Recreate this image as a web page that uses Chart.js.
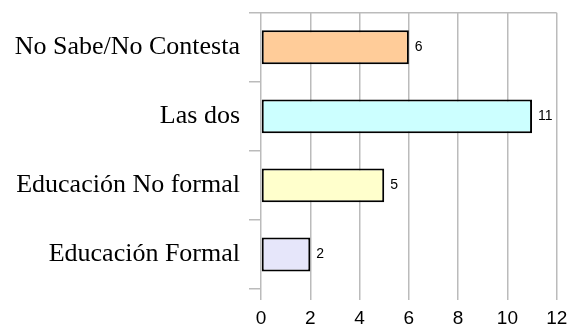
<!DOCTYPE html>
<html>
<head>
<meta charset="utf-8">
<script src="https://cdn.jsdelivr.net/npm/chart.js@4/dist/chart.umd.min.js"></script>
<style>
  html, body { margin: 0; padding: 0; background: #fff; }
  #wrap { width: 567px; height: 326px; }
</style>
</head>
<body>
<div id="wrap"><canvas id="c" width="567" height="326"></canvas></div>
<script>
// Respuestas por tipo de educación
const categories = ["No Sabe/No Contesta", "Las dos", "Educación No formal", "Educación Formal"];
const values = [6, 11, 5, 2];
const barColors = ["#FFCC99", "#CCFFFF", "#FFFFCC", "#E6E6FA"];
const xTicks = [0, 2, 4, 6, 8, 10, 12];

const GRID = "#BBBBBB";

// Value printed just past the end of each bar
const valueLabels = {
  id: "valueLabels",
  afterDatasetsDraw(chart) {
    const ctx = chart.ctx;
    const meta = chart.getDatasetMeta(0);
    ctx.save();
    ctx.fillStyle = "#000";
    ctx.font = "14px 'Liberation Sans', Arial, sans-serif";
    ctx.textAlign = "left";
    ctx.textBaseline = "middle";
    meta.data.forEach((bar, i) => {
      ctx.fillText(String(values[i]), bar.x + 6, bar.y);
    });
    ctx.restore();
  }
};

new Chart(document.getElementById("c"), {
  type: "bar",
  data: {
    labels: categories,
    datasets: [{
      data: values,
      backgroundColor: barColors,
      borderColor: "#000",
      borderWidth: 2,
      borderSkipped: false,
      categoryPercentage: 1,
      barPercentage: 0.49
    }]
  },
  options: {
    indexAxis: "y",
    responsive: false,
    animation: false,
    layout: { padding: { top: 12.7, right: 10.3, left: 0, bottom: 0 } },
    plugins: { legend: { display: false }, tooltip: { enabled: false } },
    scales: {
      x: {
        min: 0,
        max: 12,
        afterBuildTicks(scale) { scale.ticks = xTicks.map(v => ({ value: v })); },
        afterFit(scale) {
          scale.height = 37;
          scale.paddingLeft = 0;
          scale.paddingRight = 0;
        },
        border: { display: false },
        grid: { color: GRID, lineWidth: 1.5, tickLength: 11, tickColor: GRID },
        ticks: {
          padding: 7,
          color: "#000",
          font: { family: "'Liberation Sans', Arial, sans-serif", size: 19 }
        }
      },
      y: {
        afterFit(scale) {
          scale.width = 261;
          scale.paddingTop = 0;
          scale.paddingBottom = 0;
        },
        border: { display: false },
        grid: {
          offset: true,
          lineWidth: 1.5,
          tickLength: 12,
          tickColor: GRID,
          color: ctx => (ctx.index === 0 || ctx.index === categories.length) ? GRID : "rgba(0,0,0,0)"
        },
        ticks: {
          padding: 9,
          color: "#000",
          font: { family: "'Liberation Serif', 'Times New Roman', serif", size: 26 }
        }
      }
    }
  },
  plugins: [valueLabels]
});
</script>
</body>
</html>
